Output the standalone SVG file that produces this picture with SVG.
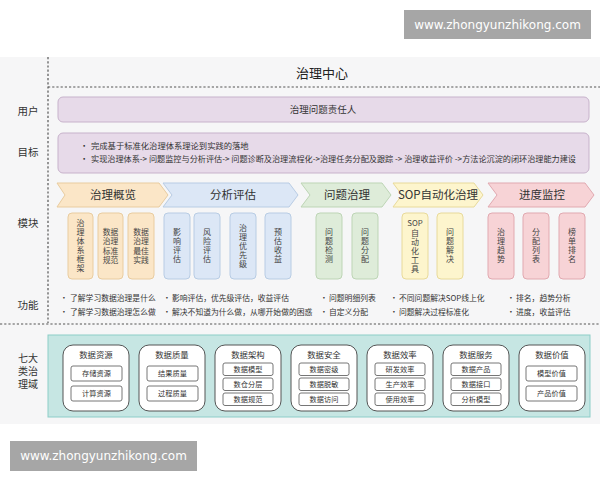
<svg xmlns="http://www.w3.org/2000/svg" width="600" height="480" viewBox="0 0 600 480">
<style>
text{font-family:"Noto Sans CJK SC","Noto Sans",sans-serif;fill:#333}
.lbl{font-size:10.5px;text-anchor:middle}
.lbl2{font-size:10px;text-anchor:middle}
.title{font-size:13px;text-anchor:middle;fill:#222}
.purple{fill:#e7dae9;stroke:#c7b2cb;stroke-width:1}
.bul{font-size:8.3px;fill:#333}
.fn{font-size:7.8px;fill:#333}
.chev{font-size:11.5px;text-anchor:middle;fill:#333}
.card{stroke-width:1}
.vt{font-size:7.8px;text-anchor:middle;fill:#444}
.vv{font-size:8px;text-anchor:middle;fill:#444;writing-mode:vertical-rl;text-orientation:upright;letter-spacing:1px}
.o{fill:#fbe6c7;stroke:#e9cc9f}
.b{fill:#dce7f6;stroke:#b8cce4}
.g{fill:#deecd9;stroke:#bdd5b5}
.y{fill:#fdf5cd;stroke:#e8da9a}
.p{fill:#f7d3d6;stroke:#e1a9b0}
.sep{stroke:#555;stroke-width:1.2;stroke-dasharray:2.2 2;fill:none}
.dom{fill:#fff;stroke:#555;stroke-width:1}
.item{fill:#fff;stroke:#666;stroke-width:0.9}
.dt{font-size:8.4px;text-anchor:middle;fill:#333}
.it{font-size:7.2px;text-anchor:middle;fill:#333}
.wm{font-family:"DejaVu Sans",sans-serif;font-size:12px;fill:#fff;text-anchor:middle}
</style>
<rect x="0" y="0" width="600" height="480" fill="#fff"/>
<rect x="0" y="57" width="600" height="367" fill="#f6f6f7"/>

<g id="separators">
<line class="sep" x1="48" y1="57" x2="48" y2="323"/>
<line class="sep" x1="48" y1="87" x2="600" y2="87"/>
<line class="sep" x1="0" y1="324" x2="600" y2="324"/>
</g>
<g id="connectors"></g>

<g id="title"><text class="title" x="322" y="78">治理中心</text></g>

<g id="row-labels">
<text class="lbl" x="28" y="115">用户</text>
<text class="lbl" x="28" y="156">目标</text>
<text class="lbl" x="28" y="227">模块</text>
<text class="lbl" x="28" y="309">功能</text>
<text class="lbl2" x="28" y="362">七大</text>
<text class="lbl2" x="28" y="375">类治</text>
<text class="lbl2" x="28" y="388">理域</text>
</g>

<g id="user">
<rect class="purple" x="58" y="97" width="531" height="25" rx="5"/>
<text x="323" y="113" style="font-size:9.5px;text-anchor:middle">治理问题责任人</text>
</g>

<g id="goal">
<rect class="purple" x="58" y="133" width="531" height="40" rx="5"/>
<text class="bul" x="80" y="149">•</text>
<text class="bul" x="91" y="149">完成基于标准化治理体系理论到实践的落地</text>
<text class="bul" x="80" y="162">•</text>
<text class="bul" x="91" y="162" textLength="485" lengthAdjust="spacingAndGlyphs">实现治理体系-&gt; 问题监控与分析评估-&gt; 问题诊断及治理流程化-&gt;治理任务分配及跟踪 -&gt; 治理收益评价 -&gt;方法论沉淀的闭环治理能力建设</text>
</g>

<g id="m1">
<path class="o" d="M57,183 L159,183 L168,195 L159,207 L57,207 L65,195 Z"/>
<text class="chev" x="113" y="199">治理概览</text>
<rect class="card o" x="68" y="213" width="25" height="66" rx="4"/>
<text class="vv" x="80.5" y="246">治理体系框架</text>
<rect class="card o" x="98" y="213" width="25" height="66" rx="4"/>
<text class="vt" x="110.5" y="234.5">数据</text><text class="vt" x="110.5" y="244">治理</text><text class="vt" x="110.5" y="253.5">标准</text><text class="vt" x="110.5" y="263">规范</text>
<rect class="card o" x="128" y="213" width="26" height="66" rx="4"/>
<text class="vt" x="141" y="234.5">数据</text><text class="vt" x="141" y="244">治理</text><text class="vt" x="141" y="253.5">最佳</text><text class="vt" x="141" y="263">实践</text>
</g>

<g id="m2">
<path class="b" d="M163,183 L289,183 L298,195 L289,207 L163,207 L172,195 Z"/>
<text class="chev" x="233" y="199">分析评估</text>
<rect class="card b" x="164" y="213" width="26" height="66" rx="4"/>
<text class="vv" x="177" y="246">影响评估</text>
<rect class="card b" x="194" y="213" width="26" height="66" rx="4"/>
<text class="vv" x="207" y="246">风险评估</text>
<rect class="card b" x="230" y="213" width="26" height="66" rx="4"/>
<text class="vv" x="243" y="246">治理优先级</text>
<rect class="card b" x="265" y="213" width="26" height="66" rx="4"/>
<text class="vv" x="278" y="246">预估收益</text>
</g>

<g id="m3">
<path class="g" d="M301,183 L382,183 L391,195 L382,207 L301,207 L310,195 Z"/>
<text class="chev" x="347" y="199">问题治理</text>
<rect class="card g" x="316" y="213" width="26" height="66" rx="4"/>
<text class="vv" x="329" y="246">问题检测</text>
<rect class="card g" x="352" y="213" width="26" height="66" rx="4"/>
<text class="vv" x="365" y="246">问题分配</text>
</g>

<g id="m4">
<path class="y" d="M393,183 L474,183 L483,195 L474,207 L393,207 L402,195 Z"/>
<text class="chev" x="438" y="199">SOP自动化治理</text>
<rect class="card y" x="402" y="213" width="26" height="66" rx="4"/>
<text class="vt" x="415" y="226">SOP</text>
<text class="vv" x="415" y="251">自动化工具</text>
<rect class="card y" x="437" y="213" width="26" height="66" rx="4"/>
<text class="vv" x="450" y="246">问题解决</text>
</g>

<g id="m5">
<path class="p" d="M488,183 L585,183 L594,195 L585,207 L488,207 L497,195 Z"/>
<text class="chev" x="542" y="199">进度监控</text>
<rect class="card p" x="488" y="213" width="26" height="66" rx="4"/>
<text class="vv" x="501" y="246">治理趋势</text>
<rect class="card p" x="523" y="213" width="26" height="66" rx="4"/>
<text class="vv" x="536" y="246">分配列表</text>
<rect class="card p" x="559" y="213" width="26" height="66" rx="4"/>
<text class="vv" x="572" y="246">榜单排名</text>
</g>

<g id="functions">
<text class="fn" x="60" y="301">•</text><text class="fn" x="70" y="301">了解学习数据治理是什么</text>
<text class="fn" x="60" y="315">•</text><text class="fn" x="70" y="315">了解学习数据治理怎么做</text>
<text class="fn" x="163" y="301">•</text><text class="fn" x="172" y="301">影响评估，优先级评估，收益评估</text>
<text class="fn" x="163" y="315">•</text><text class="fn" x="172" y="315">解决不知道为什么做，从哪开始做的困惑</text>
<text class="fn" x="320" y="301">•</text><text class="fn" x="329" y="301">问题明细列表</text>
<text class="fn" x="320" y="315">•</text><text class="fn" x="329" y="315">自定义分配</text>
<text class="fn" x="390" y="301">•</text><text class="fn" x="399" y="301">不同问题解决SOP线上化</text>
<text class="fn" x="390" y="315">•</text><text class="fn" x="399" y="315">问题解决过程标准化</text>
<text class="fn" x="507" y="301">•</text><text class="fn" x="516" y="301">排名，趋势分析</text>
<text class="fn" x="507" y="315">•</text><text class="fn" x="516" y="315">进度，收益评估</text>
</g>

<g id="domains-panel">
<rect x="48" y="335" width="542" height="82" fill="#c6e6e3" stroke="#8ccdc8" stroke-width="1"/>
</g>

<g id="d1">
<rect class="dom" x="63" y="345" width="66" height="66" rx="10"/>
<text class="dt" x="96" y="358">数据资源</text>
<rect class="item" x="71" y="366" width="51" height="15" rx="2"/><text class="it" x="96.5" y="376">存储资源</text>
<rect class="item" x="71" y="386" width="51" height="15" rx="2"/><text class="it" x="96.5" y="396">计算资源</text>
</g>
<g id="d2">
<rect class="dom" x="139" y="345" width="66" height="66" rx="10"/>
<text class="dt" x="172" y="358">数据质量</text>
<rect class="item" x="147" y="366" width="51" height="15" rx="2"/><text class="it" x="172.5" y="376">结果质量</text>
<rect class="item" x="147" y="386" width="51" height="15" rx="2"/><text class="it" x="172.5" y="396">过程质量</text>
</g>
<g id="d3">
<rect class="dom" x="215" y="345" width="66" height="66" rx="10"/>
<text class="dt" x="248" y="358">数据架构</text>
<rect class="item" x="223" y="363" width="50" height="12.5" rx="2"/><text class="it" x="248" y="372">数据模型</text>
<rect class="item" x="223" y="378" width="50" height="12.5" rx="2"/><text class="it" x="248" y="387">数仓分层</text>
<rect class="item" x="223" y="393" width="50" height="12.5" rx="2"/><text class="it" x="248" y="402">数据规范</text>
</g>
<g id="d4">
<rect class="dom" x="291" y="345" width="66" height="66" rx="10"/>
<text class="dt" x="324" y="358">数据安全</text>
<rect class="item" x="299" y="363" width="50" height="12.5" rx="2"/><text class="it" x="324" y="372">数据密级</text>
<rect class="item" x="299" y="378" width="50" height="12.5" rx="2"/><text class="it" x="324" y="387">数据脱敏</text>
<rect class="item" x="299" y="393" width="50" height="12.5" rx="2"/><text class="it" x="324" y="402">数据访问</text>
</g>
<g id="d5">
<rect class="dom" x="367" y="345" width="66" height="66" rx="10"/>
<text class="dt" x="400" y="358">数据效率</text>
<rect class="item" x="375" y="363" width="50" height="12.5" rx="2"/><text class="it" x="400" y="372">研发效率</text>
<rect class="item" x="375" y="378" width="50" height="12.5" rx="2"/><text class="it" x="400" y="387">生产效率</text>
<rect class="item" x="375" y="393" width="50" height="12.5" rx="2"/><text class="it" x="400" y="402">使用效率</text>
</g>
<g id="d6">
<rect class="dom" x="443" y="345" width="66" height="66" rx="10"/>
<text class="dt" x="476" y="358">数据服务</text>
<rect class="item" x="451" y="363" width="50" height="12.5" rx="2"/><text class="it" x="476" y="372">数据产品</text>
<rect class="item" x="451" y="378" width="50" height="12.5" rx="2"/><text class="it" x="476" y="387">数据接口</text>
<rect class="item" x="451" y="393" width="50" height="12.5" rx="2"/><text class="it" x="476" y="402">分析模型</text>
</g>
<g id="d7">
<rect class="dom" x="519" y="345" width="66" height="66" rx="10"/>
<text class="dt" x="552" y="358">数据价值</text>
<rect class="item" x="526" y="366" width="51" height="15" rx="2"/><text class="it" x="551.5" y="376">模型价值</text>
<rect class="item" x="526" y="386" width="51" height="15" rx="2"/><text class="it" x="551.5" y="396">产品价值</text>
</g>

<g id="watermark-top">
<rect x="404" y="10" width="187" height="29" fill="#a6a6a6"/>
<text class="wm" x="497.5" y="29">www.zhongyunzhikong.com</text>
</g>
<g id="watermark-bottom">
<rect x="10" y="441" width="187" height="30" fill="#a6a6a6"/>
<text class="wm" x="103.5" y="460">www.zhongyunzhikong.com</text>
</g>
</svg>
